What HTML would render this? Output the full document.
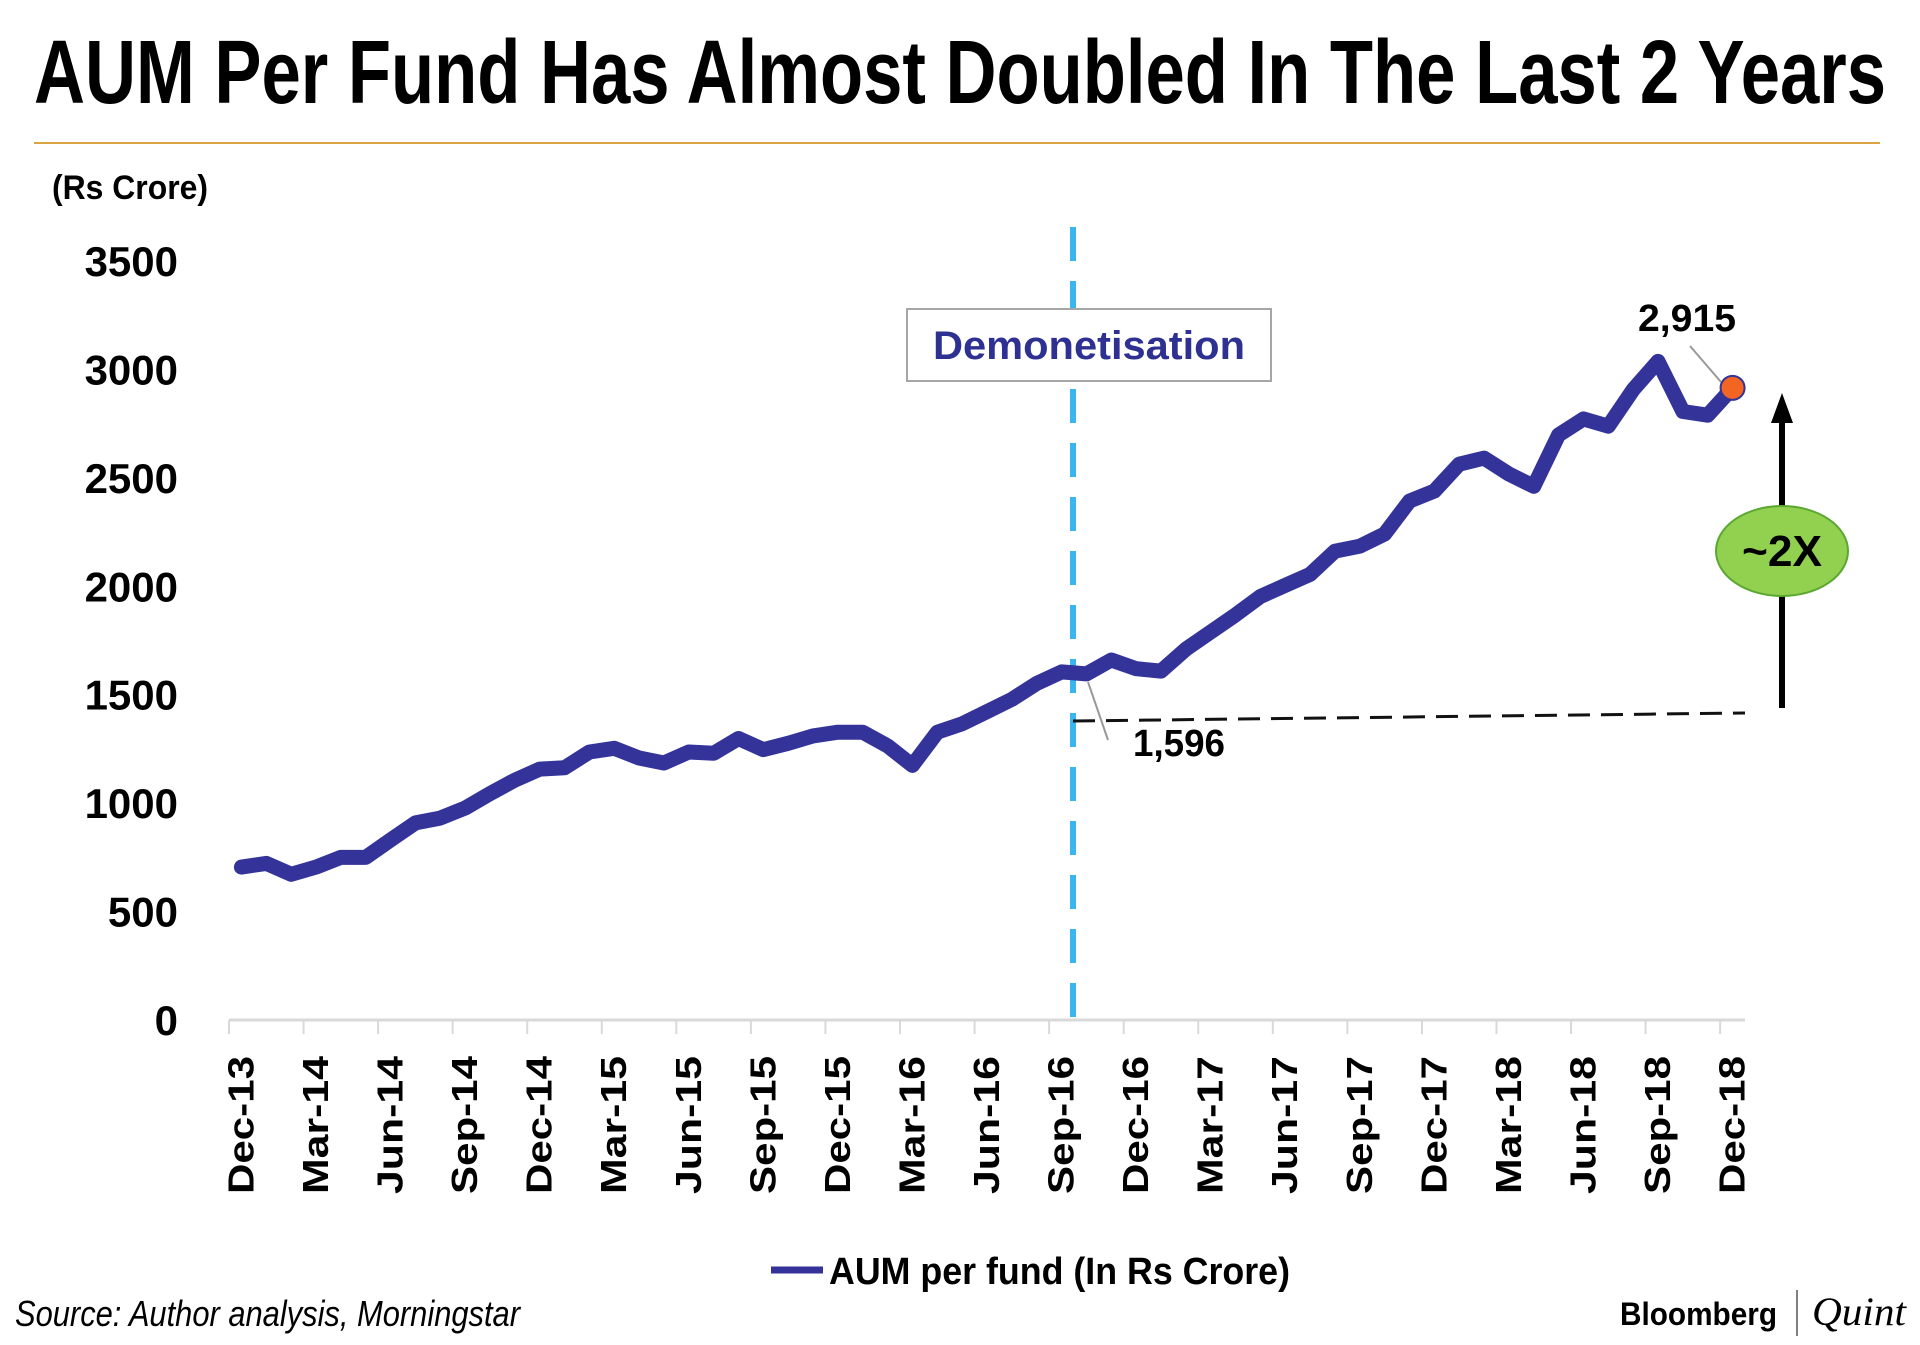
<!DOCTYPE html>
<html><head><meta charset="utf-8"><style>
html,body{margin:0;padding:0;background:#fff;}
svg{display:block;}
text{font-family:"Liberation Sans Narrow","Liberation Sans",sans-serif;}
</style></head><body>
<svg id="chart" width="1920" height="1345" viewBox="0 0 1920 1345" xmlns="http://www.w3.org/2000/svg">
<rect width="1920" height="1345" fill="#fff"/>
<text x="34" y="103" font-size="90" font-weight="bold" textLength="1852" lengthAdjust="spacingAndGlyphs">AUM Per Fund Has Almost Doubled In The Last 2 Years</text>
<line x1="34" y1="143" x2="1880" y2="143" stroke="#D9A441" stroke-width="2"/>
<text x="52" y="199" font-size="34" font-weight="bold" textLength="156" lengthAdjust="spacingAndGlyphs">(Rs Crore)</text>
<g id="yaxis"></g>
<g id="xaxis"></g>
<line x1="1073" y1="227" x2="1073" y2="1030" stroke="#3BB5EE" stroke-width="6" stroke-dasharray="34,20"/>
<rect x="907" y="309" width="364" height="72" fill="#fff" stroke="#A6A6A6" stroke-width="2"/>
<text x="1089" y="359" font-size="40" font-weight="bold" fill="#2E3192" text-anchor="middle" textLength="312" lengthAdjust="spacingAndGlyphs">Demonetisation</text>
<line x1="1073" y1="721" x2="1745" y2="713" stroke="#111" stroke-width="3" stroke-dasharray="22,11"/>
<g id="series"></g>
<line x1="1088" y1="682" x2="1108" y2="740" stroke="#999" stroke-width="2"/>
<text x="1133" y="756" font-size="38" font-weight="bold" textLength="92" lengthAdjust="spacingAndGlyphs">1,596</text>
<line x1="1690" y1="346" x2="1721" y2="382" stroke="#999" stroke-width="2"/>
<text x="1638" y="331" font-size="38" font-weight="bold" textLength="98" lengthAdjust="spacingAndGlyphs">2,915</text>
<line x1="1782" y1="708" x2="1782" y2="420" stroke="#000" stroke-width="6"/>
<polygon points="1782,393 1771,423 1793,423" fill="#000"/>
<ellipse cx="1782" cy="551" rx="66" ry="45" fill="#92D050" stroke="#5BA830" stroke-width="2"/>
<text x="1782" y="566" font-size="44" font-weight="bold" text-anchor="middle" textLength="80" lengthAdjust="spacingAndGlyphs">~2X</text>
<line x1="771" y1="1270" x2="823" y2="1270" stroke="#333399" stroke-width="7"/>
<text x="829" y="1284" font-size="38" font-weight="bold" textLength="461" lengthAdjust="spacingAndGlyphs">AUM per fund (In Rs Crore)</text>
<text x="15" y="1326" font-size="36" font-style="italic" textLength="505" lengthAdjust="spacingAndGlyphs">Source: Author analysis, Morningstar</text>
<text x="1620" y="1325" font-size="32" font-weight="bold" textLength="157" lengthAdjust="spacingAndGlyphs">Bloomberg</text>
<line x1="1797" y1="1290" x2="1797" y2="1336" stroke="#555" stroke-width="1.5"/>
<text x="1812" y="1325" font-size="40" font-style="italic" textLength="94" lengthAdjust="spacingAndGlyphs" style="font-family:'Liberation Serif',serif">Quint</text>
</svg>
<script>
const categories = [];
const months = ["Jan","Feb","Mar","Apr","May","Jun","Jul","Aug","Sep","Oct","Nov","Dec"];
categories.push("Dec-13");
for (let y = 14; y <= 18; y++) for (const m of months) categories.push(m + "-" + y);
const aumValues = [705,722,672,705,750,750,830,909,931,977,1044,1106,1157,1163,1236,1253,1208,1185,1236,1230,1298,1247,1276,1310,1327,1327,1264,1174,1327,1366,1422,1479,1552,1605,1596,1660,1620,1609,1710,1789,1868,1953,2004,2055,2162,2185,2241,2393,2439,2563,2591,2518,2461,2698,2772,2738,2907,3037,2806,2789,2915];
const yTicks = [0,500,1000,1500,2000,2500,3000,3500];
const xTickLabels = ["Dec-13","Mar-14","Jun-14","Sep-14","Dec-14","Mar-15","Jun-15","Sep-15","Dec-15","Mar-16","Jun-16","Sep-16","Dec-16","Mar-17","Jun-17","Sep-17","Dec-17","Mar-18","Jun-18","Sep-18","Dec-18"];

const NS = "http://www.w3.org/2000/svg";
const X0 = 229, X1 = 1745, Y0 = 1020, Y1 = 261, YMAX = 3500;
const step = (X1 - X0) / categories.length;
const xPos = i => X0 + step * (i + 0.5);
const yPos = v => Y0 - (v / YMAX) * (Y0 - Y1);
function mk(tag, attrs, parent) {
  const el = document.createElementNS(NS, tag);
  for (const k in attrs) el.setAttribute(k, attrs[k]);
  parent.appendChild(el);
  return el;
}
const yaxis = document.getElementById('yaxis');
yTicks.forEach(t => {
  const el = mk('text', {x: 178, y: yPos(t) + 15, 'font-size': 42, 'font-weight': 'bold', 'text-anchor': 'end'}, yaxis);
  
  
  el.textContent = t;
});
const xaxis = document.getElementById('xaxis');
const axisLine = mk('line', {x1: X0, y1: Y0, x2: X1, y2: Y0, stroke: '#D9D9D9', 'stroke-width': 3}, xaxis);


for (let i = 0; i <= categories.length; i += 3) {
  const tx = X0 + step * i;
  const tk = mk('line', {x1: tx, y1: Y0, x2: tx, y2: Y0 + 14, stroke: '#D9D9D9', 'stroke-width': 2}, xaxis);
  
  
}
xTickLabels.forEach(lbl => {
  const i = categories.indexOf(lbl);
  const cx = xPos(i) + 12, cy = 1194;
  const el = mk('text', {x: cx, y: cy, 'font-size': 36, 'font-weight': 'bold', textLength: 138, lengthAdjust: 'spacingAndGlyphs', transform: `rotate(-90 ${cx} ${cy})`, style: "font-family:'Liberation Sans',sans-serif"}, xaxis);
  
  
  el.textContent = lbl;
});
const series = document.getElementById('series');
const pts = aumValues.map((v, i) => xPos(i).toFixed(1) + ',' + yPos(v).toFixed(1)).join(' ');
const line = mk('polyline', {points: pts, fill: 'none', stroke: '#333399', 'stroke-width': 15, 'stroke-linejoin': 'round', 'stroke-linecap': 'round'}, series);


const last = aumValues.length - 1;
const dot = mk('circle', {cx: xPos(last), cy: yPos(aumValues[last]), r: 12, fill: '#F26522', stroke: '#333399', 'stroke-width': 2}, series);


</script>
</body></html>
